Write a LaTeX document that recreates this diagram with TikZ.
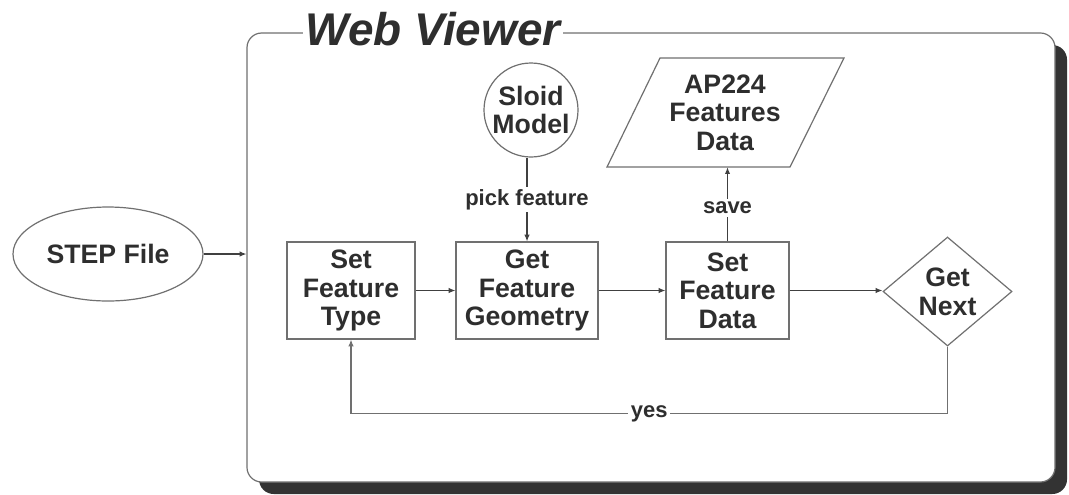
\documentclass[tikz,border=0pt]{standalone}
\usepackage{fontspec}
\setmainfont{Liberation Sans}
\usetikzlibrary{shapes.geometric,arrows.meta}
\definecolor{linegray}{HTML}{707070}
\definecolor{txt}{HTML}{2E2E2E}
\definecolor{arr}{HTML}{404040}
\definecolor{shad}{HTML}{333333}
\begin{document}
\begin{tikzpicture}[x=0.75pt,y=-0.75pt,
  lbl/.style={font=\bfseries\fontsize{20}{21.5}\selectfont, text=txt, align=center, inner sep=0pt},
  small/.style={font=\bfseries\fontsize{16.5}{18}\selectfont, text=txt, fill=white, inner sep=2pt},
  procbox/.style={lbl, draw=linegray, line width=0.9pt, minimum height=72.75pt},
  conn/.style={draw=arr, line width=0.8pt, -{Latex[length=5pt,width=4pt]}},
  plain/.style={draw=linegray, line width=0.9pt}]
\useasboundingbox (0,0) rectangle (1069,494);
% container and shadow
\node[fill=shad, rounded corners=11pt, minimum width=606pt, minimum height=336.75pt, inner sep=0pt] (shadow) at (663,269.5) {};
\node[fill=white, draw=linegray, line width=0.9pt, rounded corners=11pt, minimum width=606pt, minimum height=336.75pt, inner sep=0pt] (cont) at (651,257.5) {};
\node[font=\bfseries\itshape\fontsize{34.4}{36}\selectfont, text=txt, fill=white, inner xsep=2pt, inner ysep=0pt, anchor=base] (title) at (433,45) {Web Viewer};
% nodes
\node[lbl, draw=linegray, line width=0.9pt, ellipse, minimum width=142.5pt, minimum height=70.5pt] (step) at (108,254) {STEP File};
\node[procbox, minimum width=96pt] (sft) at (351,290.5) {Set\\Feature\\Type};
\node[procbox, minimum width=106.5pt] (gfg) at (527,290.5) {Get\\Feature\\Geometry};
\node[procbox, minimum width=92.25pt] (sfd) at (727.5,290.5) {Set\\Feature\\Data};
\node[lbl, draw=linegray, line width=0.9pt, diamond, minimum width=96.75pt, minimum height=81.75pt] (gn) at (947.5,291.5) {Get\\Next};
\node[lbl, draw=linegray, line width=0.9pt, circle, minimum size=70.5pt] (sm) at (531,110) {Sloid\\Model};
\node[lbl, minimum height=81.75pt] (ap) at (725,112.5) {AP224\\Features\\Data};
\draw[plain] (607,167) -- (660,58) -- (844,58) -- (790,167) -- cycle;
% connectors
\draw[conn] (step.east) -- (step.east -| cont.west);
\draw[conn] (sft.east) -- (sft.east -| gfg.west);
\draw[conn] (gfg.east) -- (gfg.east -| sfd.west);
\draw[conn] (sfd.east) -- (sfd.east -| gn.west);
\draw[conn] (gfg.north |- sm.south) -- node[small, pos=0.5] {pick feature} (gfg.north);
\draw[conn] (sfd.north) -- node[small, pos=0.45] {save} (sfd.north |- ap.south);
\draw[conn, draw=linegray] (gn.south) -- ++(0,67) -| node[small, pos=0.25] {yes} (sft.south);
\end{tikzpicture}
\end{document}
